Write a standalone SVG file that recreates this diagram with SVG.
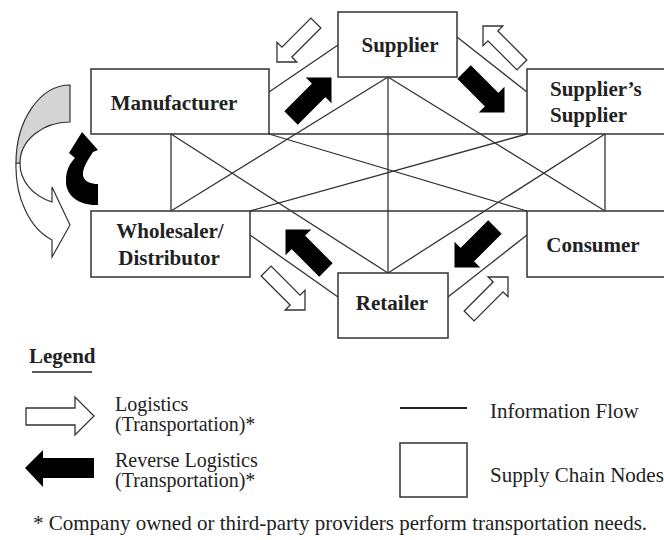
<svg xmlns="http://www.w3.org/2000/svg" width="664" height="540" viewBox="0 0 664 540">
<style>
.box{fill:#fff;stroke:#333;stroke-width:1.5}
.ln{stroke:#333;stroke-width:1.3;fill:none}
.lbl{font-family:"Liberation Serif",serif;font-weight:bold;font-size:21px;fill:#222;text-anchor:middle}
.txt{font-family:"Liberation Serif",serif;font-size:21px;fill:#222}
.leg{font-family:"Liberation Serif",serif;font-size:20px;fill:#222}
.hol{fill:#fff;stroke:#333;stroke-width:1.3;stroke-linejoin:miter}
.blk{fill:#000;stroke:#000;stroke-width:1}
</style>
<defs>
<path id="hArrow" d="M0,0 L-14,-14 L-14,-7 L-55,-7 L-55,7 L-14,7 L-14,14 Z"/>
<path id="bArrow" d="M0,0 L-17,-17 L-17,-9 L-56,-9 L-56,9 L-17,9 L-17,17 Z"/>
</defs>
<rect width="664" height="540" fill="#fff"/>
<g id="connectors">
<line class="ln" x1="269" y1="134" x2="527" y2="134"/>
<line class="ln" x1="250" y1="211" x2="527" y2="211"/>
<line class="ln" x1="171" y1="134" x2="171" y2="211"/>
<line class="ln" x1="605" y1="134" x2="605" y2="211"/>
<line class="ln" x1="388" y1="77" x2="388" y2="273"/>
<line class="ln" x1="171" y1="134" x2="388" y2="273"/>
<line class="ln" x1="171" y1="211" x2="388" y2="77"/>
<line class="ln" x1="605" y1="134" x2="388" y2="273"/>
<line class="ln" x1="605" y1="211" x2="388" y2="77"/>
<line class="ln" x1="269" y1="134" x2="527" y2="211"/>
<line class="ln" x1="250" y1="211" x2="527" y2="134"/>
<line class="ln" x1="269" y1="92" x2="338" y2="45"/>
<line class="ln" x1="457" y1="37" x2="527" y2="92"/>
<line class="ln" x1="250" y1="235" x2="338" y2="297"/>
<line class="ln" x1="448" y1="297" x2="527" y2="235"/>
</g>
<g id="flows">
<use href="#hArrow" class="hol" transform="translate(277,62) rotate(135)"/>
<use href="#bArrow" class="blk" transform="translate(331,78) rotate(-45)"/>
<use href="#hArrow" class="hol" transform="translate(483,26) rotate(-135)"/>
<use href="#bArrow" class="blk" transform="translate(504,112) rotate(45)"/>
<use href="#bArrow" class="blk" transform="translate(286,230) rotate(-135)"/>
<use href="#hArrow" class="hol" transform="translate(305,310) rotate(45)"/>
<use href="#bArrow" class="blk" transform="translate(455,267) rotate(135)"/>
<use href="#hArrow" class="hol" transform="translate(508,277) rotate(-45)"/>
</g>
<g id="recycle">
<path d="M16,163 A54,78 0 0 0 52,240 L52,257 L70,225 L52,187 L52,202 A50,41 0 0 1 20,163 Z" fill="#fff" stroke="#333" stroke-width="1.2"/>
<path d="M70,85 A54,78 0 0 0 16,163 L20,163 A50,41 0 0 1 70,122 Z" fill="#d4d4d4" stroke="#333" stroke-width="1.2"/>
<path d="M98,205 C80,206 65,196 66,180 C66,170 70,163 75,158 L69,153 L82,132 L98,150 L93,152 C88,160 82,168 83,176 C85,182 91,184 98,184 Z" fill="#000"/>
</g>
<g id="manufacturer">
<rect class="box" x="91" y="69" width="178" height="65"/>
<text class="lbl" x="174" y="110">Manufacturer</text>
</g>
<g id="supplier">
<rect class="box" x="338" y="12" width="119" height="65"/>
<text class="lbl" x="400" y="52">Supplier</text>
</g>
<g id="suppliers-supplier">
<rect class="box" x="527" y="69" width="140" height="65"/>
<text class="lbl" x="550" y="96" style="text-anchor:start">Supplier’s</text>
<text class="lbl" x="550" y="122" style="text-anchor:start">Supplier</text>
</g>
<g id="wholesaler">
<rect class="box" x="91" y="211" width="159" height="66"/>
<text class="lbl" x="170" y="238">Wholesaler/</text>
<text class="lbl" x="169" y="265">Distributor</text>
</g>
<g id="consumer">
<rect class="box" x="527" y="211" width="140" height="66"/>
<text class="lbl" x="593" y="252">Consumer</text>
</g>
<g id="retailer">
<rect class="box" x="338" y="273" width="110" height="65"/>
<text class="lbl" x="392" y="310">Retailer</text>
</g>
<g id="legend">
<text class="txt" x="29" y="363" style="font-weight:bold">Legend</text>
<line x1="32" y1="372" x2="92" y2="372" stroke="#222" stroke-width="1.5"/>
<path d="M26,408 L75,408 L75,397 L94,416 L75,435 L75,425 L26,425 Z" class="hol" stroke-width="1.6"/>
<text class="leg" x="115" y="411">Logistics</text>
<text class="leg" x="115" y="431">(Transportation)*</text>
<path d="M25,468 L43,450 L43,458 L94,458 L94,478 L43,478 L43,487 Z" fill="#000"/>
<text class="leg" x="115" y="467">Reverse Logistics</text>
<text class="leg" x="115" y="487">(Transportation)*</text>
<line x1="400" y1="408" x2="467" y2="408" stroke="#222" stroke-width="2"/>
<text class="txt" x="490" y="418">Information Flow</text>
<rect x="400" y="443" width="67" height="54" fill="#fff" stroke="#333" stroke-width="1.5"/>
<text class="txt" x="490" y="482">Supply Chain Nodes</text>
<text class="txt" x="33" y="530">* Company owned or third-party providers perform transportation needs.</text>
</g>
</svg>
